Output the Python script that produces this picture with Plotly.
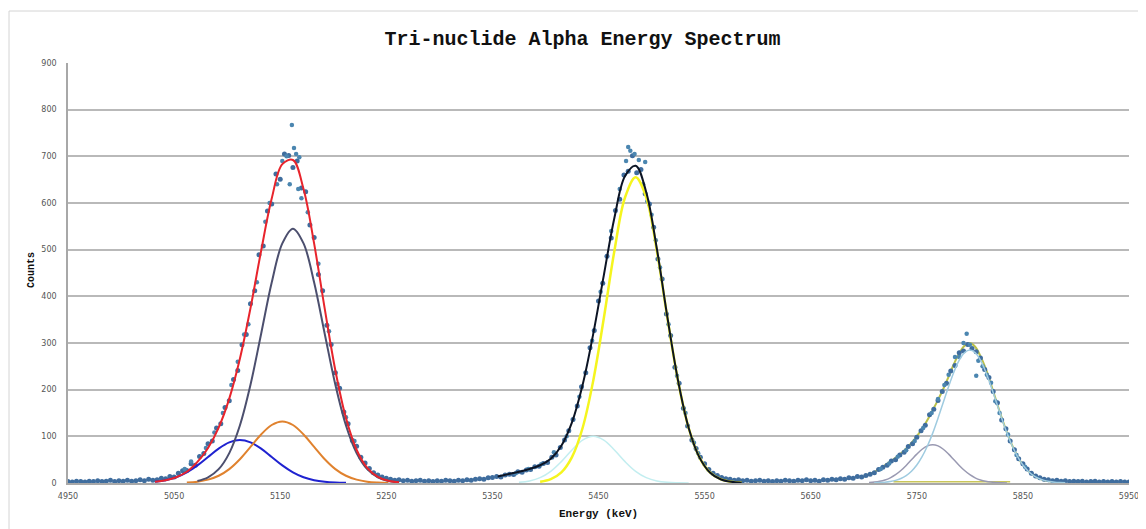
import plotly.graph_objects as go

# ---------------- data ----------------
energy = list(range(4950, 5951, 4))  # channel energies (keV)
counts = [
    3, 2, 4, 3, 2, 4, 3, 5, 3, 4,
    6, 3, 5, 4, 6, 4, 5, 7, 5, 8,
    6, 7, 10, 9, 14, 13, 21, 26, 27, 41,
    38, 57, 63, 84, 90, 118, 127, 162, 176, 222,
    241, 296, 318, 384, 412, 489, 508, 583, 598, 662,
    651, 705, 702, 676, 690, 632, 624, 553, 526, 447,
    412, 338, 297, 236, 203, 152, 127, 91, 79, 55,
    43, 31, 22, 17, 13, 10, 8, 6, 7, 5,
    6, 4, 5, 6, 4, 5, 3, 5, 4, 6,
    5, 4, 6, 5, 7, 6, 8, 9, 8, 11,
    12, 14, 13, 17, 19, 18, 24, 23, 28, 29,
    35, 36, 42, 44, 55, 60, 76, 92, 112, 136,
    165, 206, 236, 290, 327, 390, 428, 486, 525, 584,
    608, 660, 668, 701, 665, 672, 620, 598, 548, 480,
    437, 362, 316, 248, 214, 160, 122, 92, 74, 55,
    41, 29, 21, 16, 12, 9, 8, 6, 7, 5,
    6, 4, 5, 6, 4, 5, 3, 5, 4, 6,
    5, 4, 6, 5, 7, 5, 6, 4, 7, 6,
    8, 7, 9, 8, 11, 10, 14, 13, 16, 19,
    22, 29, 34, 38, 47, 50, 60, 66, 78, 84,
    98, 112, 124, 146, 158, 177, 196, 214, 240, 252,
    279, 283, 297, 288, 281, 268, 243, 226, 196, 172,
    135, 116, 90, 71, 52, 41, 30, 21, 15, 11,
    8, 7, 5, 6, 4, 5, 3, 4, 3, 4,
    2, 3, 4, 2, 3, 2, 3, 2, 3, 2,
    2,
]

extra_energy = [
    5161, 5163, 5156, 5165, 5168, 5159, 5167, 5170, 5152, 5147, 5140, 5136,
    5128, 5120, 5116, 5110, 5104, 5096, 5088, 5080, 5066, 5060, 5176, 5186,
    5196, 5204, 5212, 5220,
    5478, 5480, 5484, 5476, 5488, 5494, 5492, 5496, 5500, 5504, 5508, 5516,
    5524, 5532, 5540, 5544, 5470, 5462, 5452, 5444, 5432, 5420, 5408, 5396,
    5384, 5372,
    5797, 5794, 5800, 5790, 5786, 5780, 5776, 5770, 5764, 5756, 5748, 5740,
    5732, 5724, 5716, 5806, 5808, 5812, 5816, 5820, 5824, 5828, 5836, 5844,
    5852,
]
extra_counts = [
    767, 718, 700, 705, 698, 640, 630, 610, 690, 640, 600, 560,
    430, 340, 318, 260, 210, 150, 108, 75, 46, 30, 580, 470,
    325, 212, 141, 90,
    720, 712, 705, 690, 692, 688, 640, 604, 575, 520, 462, 340,
    230, 150, 86, 64, 630, 540, 410, 305, 185, 100, 66, 40,
    30, 21,
    320, 300, 296, 270, 270, 232, 210, 180, 150, 118, 90, 70,
    56, 42, 30, 230, 262, 250, 232, 215, 175, 150, 104, 60,
    35,
]

# fitted curves, group 1 (sampled every 10 keV)
grid1 = [5032, 5042, 5052, 5062, 5072, 5082, 5092, 5102, 5112, 5122, 5132, 5142,
         5152, 5162, 5172, 5182, 5192, 5202, 5212, 5222, 5232, 5242, 5252, 5262]
fit_blue = [2.6, 6.0, 12.4, 22.9, 37.8, 55.8, 73.7, 87.0, 92.0, 87.0, 73.7, 55.8,
            37.8, 22.9, 12.4, 6.0, 2.6, 1.0, 0.4, None, None, None, None, None]
fit_orange = [None, None, None, 1.1, 2.9, 7.2, 15.5, 29.8, 51.0, 77.4, 104.0, 124.3,
              132.0, 124.3, 104.0, 77.4, 51.0, 29.8, 15.5, 7.2, 2.9, 1.1, 0.3, None]
fit_slate = [None, None, None, None, 4.4, 12.2, 29.6, 64.1, 123.2, 210.4, 319.4, 429.5,
             513.4, 545.0, 513.4, 429.5, 319.4, 210.4, 123.2, 64.1, 29.6, 12.2, 4.4, 1.4]
fit_red = [2.6, 6.0, 12.4, 24.0, 45.1, 75.2, 118.8, 180.9, 266.2, 374.8, 497.1, 609.6,
           683.2, 692.2, 629.8, 512.9, 373.0, 241.2, 139.1, 71.3, 32.5, 13.3, 4.7, 1.4]

# group 2
grid2 = [5355, 5365, 5375, 5385, 5395, 5405, 5415, 5425, 5435, 5445, 5455, 5465,
         5475, 5485, 5495, 5505, 5515, 5525, 5535, 5545, 5555, 5565, 5575, 5585]
fit_cyan = [None, None, 1.4, 4.4, 11.4, 24.9, 45.8, 70.7, 91.7, 100.0, 91.7, 70.7,
            45.8, 24.9, 11.4, 4.4, 1.4, 0.4, 0.1, None, None, None, None, None]
fit_yellow = [None, None, None, None, 2.5, 8.1, 22.7, 55.5, 117.9, 218.8, 353.0, 497.8,
              611.8, 655.0, 611.8, 497.8, 353.0, 218.8, 117.9, 55.5, 22.7, 8.1, 2.5, 0.7]
fit_black = [14, 19, 24, 30, 38, 52, 80, 130, 210, 319, 445, 568.5,
             657.6, 679.9, 623.2, 502.2, 354.4, 219.2, 118.0, 55.5, 22.7, 8.1, 2.5, 0.7]

# group 3 (sampled every 5 keV)
grid3 = [5700, 5705, 5710, 5715, 5720, 5725, 5730, 5735, 5740, 5745, 5750, 5755, 5760,
         5765, 5770, 5775, 5780, 5785, 5790, 5795, 5800, 5805, 5810, 5815, 5820, 5825,
         5830, 5835, 5840, 5845, 5850, 5855, 5860, 5865, 5870, 5875, 5880, 5885, 5890]
fit_gray = [None, 0.9, 1.9, 3.6, 6.5, 11.1, 17.7, 26.7, 37.6, 49.8, 61.9, 72.3, 79.5,
            82.0, 79.5, 72.3, 61.9, 49.8, 37.6, 26.7, 17.7, 11.1, 6.5, 3.6, 1.9, 0.9,
            0.4, 0.2, None, None, None, None, None, None, None, None, None, None, None]
fit_lightblue = [None, None, 0.4, 0.9, 1.7, 3.2, 5.6, 9.7, 16.0, 25.3, 38.5, 56.4, 79.2,
                 106.9, 138.8, 173.0, 206.9, 238.0, 263.1, 279.3, 285.0, 279.3, 263.1, 238.0,
                 206.9, 173.0, 138.8, 106.9, 79.2, 56.4, 38.5, 25.3, 16.0, 9.7, 5.6, 3.2,
                 1.7, 0.9, 0.4]
fit_olive = [14, 19, 24, 30, 38, 46, 54, 63, 74, 86, 100, 116, 135,
             156, 178, 202, 228, 255, 278, 294, 300, 292, 272, 245, 211, 175,
             140, 108, 80, 57, 39, 26, 16, 10, 6, 3.5, 2, 1, 0.5]
flat_energy = [5728, 5838]
flat_counts = [2.5, 2.5]

x_ticks = [4950, 5050, 5150, 5250, 5350, 5450, 5550, 5650, 5750, 5850, 5950]
y_ticks = [0, 100, 200, 300, 400, 500, 600, 700, 800, 900]

# ---------------- figure ----------------
fig = go.Figure()


def curve(x, y, color, width):
    fig.add_trace(go.Scatter(x=x, y=y, mode="lines", line=dict(color=color, width=width, shape="spline"),
                             connectgaps=False, hoverinfo="skip"))


curve(grid3, fit_olive, "#b9c04a", 2)
curve(flat_energy, flat_counts, "#c9c65a", 1.5)

fig.add_trace(go.Scatter(x=energy, y=counts, mode="markers",
                         marker=dict(color="#3f6d9e", size=5, line=dict(width=0))))
fig.add_trace(go.Scatter(x=extra_energy, y=extra_counts, mode="markers",
                         marker=dict(color="#4b86b0", size=4.5, line=dict(width=0))))

curve(grid1, fit_blue, "#1f22d0", 2)
curve(grid1, fit_orange, "#e0822e", 2)
curve(grid1, fit_slate, "#4c4f6e", 2)
curve(grid1, fit_red, "#e8242c", 2)

curve(grid2, fit_cyan, "#c3eef0", 1.5)
curve(grid2, fit_yellow, "#f5f51e", 2.5)
curve(grid2, fit_black, "#0c1424", 2)

curve(grid3, fit_gray, "#9a9ab2", 1.5)
curve(grid3, fit_lightblue, "#9fcbe0", 1.5)

# the page body adds an 8 px offset; margins compensate so the plot area
# lands at x 68..1129, y 63..483 in the window
fig.update_layout(
    width=1146, height=529,
    margin=dict(l=60, r=25, t=55, b=54),
    paper_bgcolor="white", plot_bgcolor="white",
    showlegend=False,
    title=dict(text="Tri-nuclide Alpha Energy Spectrum", x=0.485, xref="paper", xanchor="center",
               y=1 - 30 / 529, yref="container", yanchor="middle",
               font=dict(family="Liberation Mono", size=20, color="#111", weight="bold")),
    xaxis=dict(range=[4950, 5950], tickvals=x_ticks, showgrid=False, zeroline=False,
               showline=True, linecolor="#a8a8a8", linewidth=1.5, ticks="",
               ticklabelstandoff=5, automargin=False,
               tickfont=dict(family="DejaVu Sans", size=8, color="#555")),
    yaxis=dict(range=[0, 900], tickvals=y_ticks, showgrid=True, gridcolor="#b9b9b9", gridwidth=1.5,
               zeroline=False, showline=True, linecolor="#a8a8a8", linewidth=1.5, ticks="",
               ticklabelstandoff=8, automargin=False,
               tickfont=dict(family="DejaVu Sans", size=8, color="#555")),
    annotations=[
        dict(text="Counts", x=(31 - 68) / 1061, y=(483 - 270) / 420, xref="paper", yref="paper",
             textangle=-90, showarrow=False, xanchor="center", yanchor="middle",
             font=dict(family="Liberation Mono", size=10, color="#111", weight="bold")),
        dict(text="Energy (keV)", x=(598 - 68) / 1061, y=(483 - 514) / 420, xref="paper", yref="paper",
             showarrow=False, xanchor="center", yanchor="middle",
             font=dict(family="Liberation Mono", size=11, color="#111", weight="bold")),
    ],
    shapes=[dict(type="rect", xref="paper", yref="paper",
                 x0=(9 - 68) / 1061, x1=(1141 - 68) / 1061,
                 y0=(483 - 540) / 420, y1=(483 - 11) / 420,
                 line=dict(color="#d4d4d4", width=1), fillcolor="rgba(0,0,0,0)", layer="below")],
)

fig.write_html("out.html")
